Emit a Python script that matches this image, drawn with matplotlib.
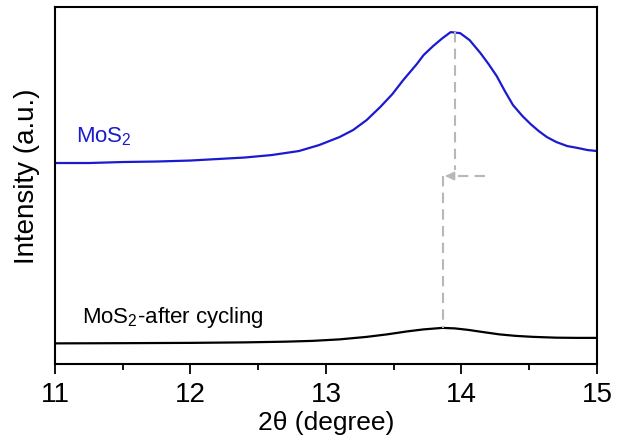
import matplotlib
matplotlib.use("Agg")
import matplotlib.pyplot as plt

plt.rcParams['font.family'] = ['Liberation Sans', 'DejaVu Sans']
plt.rcParams['mathtext.fontset'] = 'custom'
plt.rcParams['mathtext.rm'] = 'Liberation Sans'
plt.rcParams['mathtext.it'] = 'Liberation Sans:italic'

# XRD (002) region, pristine vs after cycling (arbitrary units)
two_theta_fresh = [11.0, 11.25, 11.5, 11.75, 12.0, 12.2, 12.4, 12.6, 12.8, 12.95,
                   13.1, 13.2, 13.3, 13.4, 13.49, 13.57, 13.67, 13.72, 13.79, 13.86,
                   13.92, 13.99, 14.06, 14.14, 14.2, 14.26, 14.32, 14.38, 14.45, 14.51,
                   14.57, 14.63, 14.7, 14.78, 14.86, 14.93, 15.0]
intensity_fresh = [201, 201, 202, 202.5, 203.5, 205, 206.5, 209, 213, 219,
                   227, 234, 244, 257, 270, 284, 300, 309, 318, 326,
                   332, 331, 324, 311, 300, 288, 273, 259, 248, 240,
                   233, 227, 222, 218, 216, 214, 213]

two_theta_cycled = [11.0, 11.5, 12.0, 12.4, 12.7, 12.9, 13.1, 13.3, 13.45, 13.6,
                    13.72, 13.86, 13.95, 14.05, 14.15, 14.28, 14.4, 14.53, 14.7,
                    14.85, 15.0]
intensity_cycled = [20.5, 20.7, 21, 21.5, 22.2, 23, 24.5, 27, 29.5, 32.5,
                    34.5, 36, 35.5, 34, 32, 29.5, 28, 27, 26.2,
                    26, 26]

peak_fresh = 13.95
peak_cycled = 13.86
arrow_start = 14.17
arrow_level = 188
label_fresh = 'MoS$_2$'
label_cycled = 'MoS$_2$-after cycling'

fig = plt.figure(figsize=(6.18, 4.47), dpi=100)
ax = fig.add_axes([0.089, 0.186, 0.877, 0.798])

ax.plot(two_theta_fresh, intensity_fresh, color='#1a1ad0', lw=1.6)
ax.plot(two_theta_cycled, intensity_cycled, color='black', lw=1.6)

# peak shift guide
guide = '#b8b8b8'
dash = (0, (5, 3))
ax.plot([peak_fresh, peak_fresh], [max(intensity_fresh), arrow_level + 6],
        color=guide, ls=dash, lw=1.5)
ax.plot([arrow_start, peak_cycled + 0.05], [arrow_level, arrow_level],
        color=guide, ls=dash, lw=1.5)
ax.annotate('', xy=(peak_cycled, arrow_level), xytext=(peak_cycled + 0.06, arrow_level),
            arrowprops=dict(arrowstyle='-|>', color=guide, lw=1.5, mutation_scale=12))
ax.plot([peak_cycled, peak_cycled], [arrow_level, max(intensity_cycled)],
        color=guide, ls=dash, lw=1.5)

ax.text(11.155, 222, label_fresh, color='#1a1ad0', fontsize=16, va='baseline')
ax.text(11.2, 41, label_cycled, color='black', fontsize=16, va='baseline')

ax.set_xlim(11, 15)
ax.set_ylim(0, 357)
ax.set_xticks([11, 12, 13, 14, 15])
ax.set_xticks([11.5, 12.5, 13.5, 14.5], minor=True)
ax.set_yticks([])
ax.tick_params(axis='x', which='major', direction='out', length=7, width=1.3,
               labelsize=20, pad=6)
ax.tick_params(axis='x', which='minor', direction='out', length=4, width=1.3)
for s in ax.spines.values():
    s.set_linewidth(1.5)

ax.set_xlabel('2θ (degree)', fontsize=19, labelpad=2)
ax.set_ylabel('Intensity (a.u.)', fontsize=20)
ax.yaxis.set_label_coords(-0.028, 0.527)

fig.savefig('out.png', dpi=100)
